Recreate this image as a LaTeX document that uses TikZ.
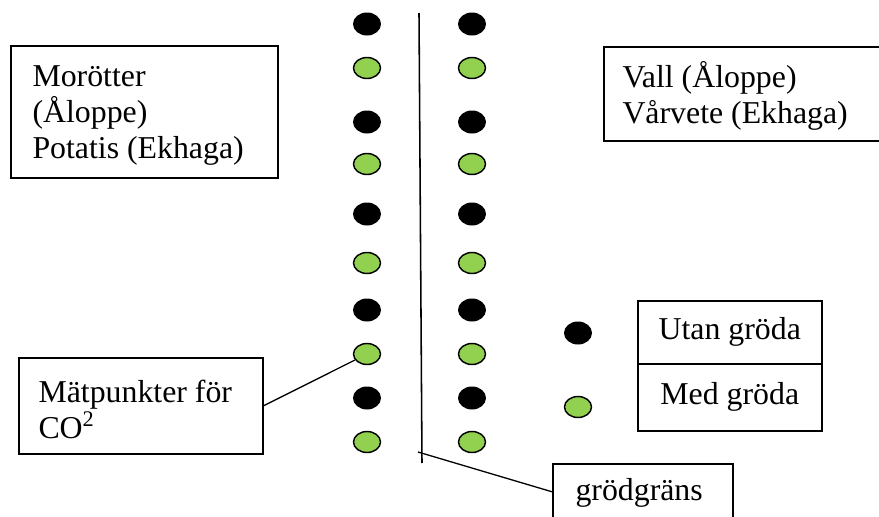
\documentclass[tikz,border=0pt]{standalone}
\usepackage{fontspec}
\setmainfont{Liberation Serif}
\usepackage{xcolor}
\usetikzlibrary{shapes.geometric}

\newlength\unitpx
\setlength\unitpx{0.385pt}
\definecolor{cropgreen}{HTML}{92D050}

\begin{document}
\begin{tikzpicture}[x=\unitpx,y=-\unitpx,
		box/.style={draw,line width=0.6pt,rectangle,inner sep=0pt,anchor=north west},
		boxtext/.style={anchor=base west,align=left,inner sep=0pt,font=\fontsize{12.25}{13.85}\selectfont},
		bare/.style={ellipse,fill=black,minimum width=28\unitpx,minimum height=23\unitpx,inner sep=0pt},
		crop/.style={ellipse,draw,line width=0.55pt,fill=cropgreen,minimum width=27\unitpx,minimum height=21\unitpx,inner sep=0pt},
		link/.style={line width=0.5pt}]
			
			\useasboundingbox (0,0) rectangle (879,517);
			\clip (0,0) rectangle (879,517);
			
			% field boxes (text placed by its last baseline)
			\node[box,minimum width=267\unitpx,minimum height=132\unitpx] (left field) at (10,45) {};
			\node[boxtext] (left text) at (32,158) {Morötter\\(Åloppe)\\Potatis (Ekhaga)};
			\node[box,minimum width=290\unitpx,minimum height=94\unitpx] (right field) at (603,46) {};
			\node[boxtext] (right text) at (622,123) {Vall (Åloppe)\\Vårvete (Ekhaga)};
			
			% measuring points, both sides of the border
			\foreach \y/\kind [count=\i] in {24/bare,68/crop,122/bare,164/crop,214/bare,263/crop,310/bare,354/crop,398/bare,442/crop}{
				\node[\kind] (l\i) at (367,\y) {};
				\node[\kind] (r\i) at (472,\y) {};
			}
			
			% crop border
			\coordinate (edge top) at (419,13);
			\coordinate (edge bottom) at (422,463);
			\coordinate (edge foot) at (418,452);
			\draw[line width=0.6pt] (edge top) -- (edge bottom);
			
			% legend
			\node[bare] (key bare) at (578,333) {};
			\node[crop] (key crop) at (578,407) {};
			\node[box,minimum width=184\unitpx,minimum height=63\unitpx,font=\fontsize{12.25}{13.85}\selectfont] (utan) at (637,300) {Utan gröda};
			\node[box,minimum width=184\unitpx,minimum height=67\unitpx,font=\fontsize{12.25}{13.85}\selectfont] (med) at (637,363) {Med gröda};
			
			% callouts
			\node[box,minimum width=244\unitpx,minimum height=96\unitpx] (points) at (18,357) {};
			\node[boxtext] (points text) at (38,438) {Mätpunkter för\\CO\textsuperscript{2}};
			\draw[link] (points.east) -- (l8);
			
			\node[box,minimum width=180\unitpx,minimum height=56\unitpx] (border) at (552,463) {};
			\node[boxtext] (border text) at (575,500) {grödgräns};
			\draw[link] (edge foot) -- (border.west);
			
		\end{tikzpicture}
\end{document}
